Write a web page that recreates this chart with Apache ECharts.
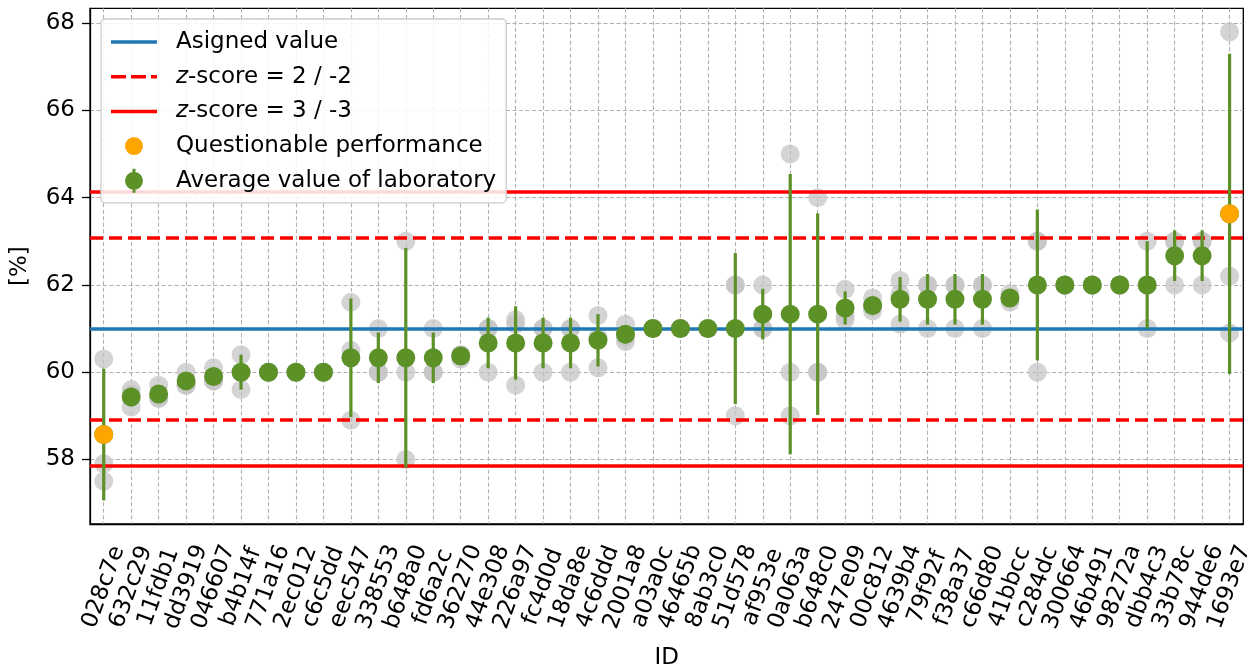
<!DOCTYPE html>
<html><head><meta charset="utf-8">
<script src="https://cdn.jsdelivr.net/npm/echarts@6/dist/echarts.min.js"></script>
<style>html,body{margin:0;padding:0;background:#fff}#c{width:1257px;height:668px}</style>
</head><body><div id="c"></div>
<script>
const ids = ['028c7e','632c29','11fdb1','dd3919','046607','b4b14f','771a16','2ec012','c6c5dd','eec547',
  '338553','b648a0','fd6a2c','362270','44e308','226a97','fc4d0d','18da8e','4c6ddd','2001a8',
  'a03a0c','46465b','8ab3c0','51d578','af953e','0a063a','b648c0','247e09','00c812','4639b4',
  '79f92f','f38a37','c66d80','41bbcc','c284dc','300664','46b491','98272a','dbb4c3','33b78c',
  '944de6','1693e7'];
const rep1 = [60.3,59.6,59.7,60.0,60.1,60.4,60,60,60,61.6, 61,63,61,60.4,61,61.2,61,61,61.3,61.1, 61,61,61,62,62,65,64,61.9,61.7,62.1, 62,62,62,61.8,63,62,62,62,63,63, 63,67.8];
const rep2 = [57.9,59.2,59.4,59.7,59.8,59.6,60,60,60,60.5, 60,60,60,60.3,61,61.1,61,61,60.1,60.7, 61,61,61,62,61,60,60,61.2,61.4,61.1, 62,62,62,61.6,63,62,62,62,62,63, 63,62.2];
const rep3 = [57.5,59.5,59.4,59.7,59.8,60.0,60,60,60,58.9, 60,58,60,60.4,60,59.7,60,60,60.8,60.8, 61,61,61,59,61,59,60,61.3,61.5,61.8, 61,61,61,61.7,60,62,62,62,61,62, 62,60.9];
const means = [58.57,59.43,59.5,59.8,59.9,60.0,60,60,60,60.33, 60.33,60.33,60.33,60.37,60.67,60.67,60.67,60.67,60.73,60.87, 61,61,61,61,61.33,61.33,61.33,61.47,61.53,61.67, 61.67,61.67,61.67,61.7,62,62,62,62,62,62.67, 62.67,63.63];
const errs = [1.51,0.21,0.17,0.17,0.17,0.40,0,0,0,1.36, 0.58,2.52,0.58,0.06,0.58,0.84,0.58,0.58,0.60,0.21, 0,0,0,1.73,0.58,3.21,2.31,0.38,0.15,0.51, 0.58,0.58,0.58,0.10,1.73,0,0,0,1.0,0.58, 0.58,3.67];
const questionable = ['028c7e','1693e7'];
const assignedValue = 61.0;
const z2Lines = [63.09, 58.91];
const z3Lines = [64.14, 57.86];
const yTicks = [58,60,62,64,66,68];
const yMin = 56.52, yMax = 68.34;

const FONT = 'DejaVu Sans';
const FS = 23;
const GREEN = '#5b9127', ORANGE = '#ffa500', BLUE = '#1f77b4', RED = '#ff0000';

const greyData = [];
ids.forEach((id, i) => { [rep1[i], rep2[i], rep3[i]].forEach(v => { if (v != null) greyData.push([id, v]); }); });
const errData = ids.map((id, i) => [i, means[i] - errs[i], means[i] + errs[i]]);
const meanData = ids.map((id, i) => [id, means[i]]);
const qData = ids.map((id, i) => questionable.includes(id) ? [id, means[i]] : [id, null]);

// legend icons (bounding boxes sized so keepAspect gives the wanted look)
const solidIcon = 'path://M0,10.25h46v3.5h-46z M0,0L0.01,0L0,0.01z M0,24L0.01,24L0,24.01z';
const dashIcon = 'path://M0,10.25h15v3.5h-15z M20,10.25h15v3.5h-15z M40,10.25h6v3.5h-6z M0,0L0.01,0L0,0.01z M0,24L0.01,24L0,24.01z';
const avgIcon = 'path://M7.5,0h3v24h-3z M9,3a9,9 0 1,1 -0.001,0z';
const qIcon = 'path://M9,3a9,9 0 1,1 -0.001,0z M9,0L9.01,0L9,0.01z M9,24L9.01,24L9,24.01z';

const chart = echarts.init(document.getElementById('c'), null, {renderer: 'canvas'});
chart.setOption({
  animation: false,
  textStyle: {fontFamily: FONT},
  grid: {left: 90, right: 13.7, top: 8.3, bottom: 144, outerBoundsMode: 'none', containLabel: false,
    show: true, borderColor: '#000', borderWidth: 1.3, backgroundColor: 'transparent'},
  legend: {
    orient: 'vertical', left: 101, top: 19,
    padding: [11, 10, 10, 10],
    itemWidth: 46, itemHeight: 24, itemGap: 10.7,
    backgroundColor: 'rgba(255,255,255,0.85)', borderColor: '#cccccc', borderWidth: 1.3, borderRadius: 4,
    textStyle: {fontFamily: FONT, fontSize: FS, color: '#000', lineHeight: 24, padding: [0, 0, 0, 14],
      rich: {
        i: {fontFamily: FONT, fontSize: FS, fontStyle: 'italic', color: '#000'},
        n: {fontFamily: FONT, fontSize: FS, color: '#000'}
      }},
    formatter: name => name.startsWith('z-') ? '{i|z}{n|' + name.slice(1) + '}' : name,
    selectedMode: false,
    data: [
      {name: 'Asigned value', icon: solidIcon, itemStyle: {color: BLUE, opacity: 1}},
      {name: 'z-score = 2 / -2', icon: dashIcon, itemStyle: {color: RED, opacity: 1}},
      {name: 'z-score = 3 / -3', icon: solidIcon, itemStyle: {color: RED, opacity: 1}},
      {name: 'Questionable performance', icon: qIcon, itemStyle: {color: ORANGE, opacity: 1}},
      {name: 'Average value of laboratory', icon: avgIcon, itemStyle: {color: GREEN, opacity: 1}}
    ]
  },
  xAxis: {
    type: 'category', data: ids, boundaryGap: true,
    name: 'ID', nameLocation: 'middle', nameGap: 122.5,
    nameTextStyle: {fontFamily: FONT, fontSize: FS, color: '#000'},
    axisLine: {lineStyle: {color: '#000', width: 1.3}},
    axisTick: {alignWithLabel: true, interval: 0, length: 8, lineStyle: {color: '#000', width: 1.3}},
    axisLabel: {interval: 0, rotate: 70, align: 'center', verticalAlign: 'middle', margin: 63, hideOverlap: false,
      fontFamily: FONT, fontSize: FS, color: '#000'},
    splitLine: {show: true, interval: 0, alignWithLabel: true, lineStyle: {color: '#b0b0b0', width: 1.1, type: [4, 2.5]}}
  },
  yAxis: {
    type: 'value', min: yMin, max: yMax,
    name: '[%]', nameLocation: 'middle', nameGap: 58, nameRotate: 90,
    nameTextStyle: {fontFamily: FONT, fontSize: FS, color: '#000'},
    axisLine: {show: true, lineStyle: {color: '#000', width: 1.3}},
    axisTick: {show: true, length: 8, customValues: yTicks, lineStyle: {color: '#000', width: 1.3}},
    axisLabel: {customValues: yTicks, margin: 15, fontFamily: FONT, fontSize: FS, color: '#000'},
    splitLine: {show: true, lineStyle: {color: '#b0b0b0', width: 1.1, type: [4, 2.5]}}
  },
  series: [
    {
      name: 'Replicates', type: 'scatter', z: 1, data: greyData, symbolSize: 19,
      itemStyle: {color: 'rgba(195,195,195,0.72)', opacity: 1}, silent: true
    },
    {
      name: 'Asigned value', type: 'line', z: 2, data: [], symbol: 'none',
      itemStyle: {color: BLUE}, lineStyle: {color: BLUE, width: 3.5},
      markLine: {z: 2, silent: true, symbol: 'none', label: {show: false},
        lineStyle: {color: BLUE, width: 3.5, type: 'solid'},
        data: [{yAxis: assignedValue}]}
    },
    {
      name: 'z-score = 2 / -2', type: 'line', z: 2, data: [], symbol: 'none',
      itemStyle: {color: RED}, lineStyle: {color: RED, width: 3.5, type: [13, 6]},
      markLine: {z: 2, silent: true, symbol: 'none', label: {show: false},
        lineStyle: {color: RED, width: 3.5, type: [13, 6]},
        data: z2Lines.map(v => ({yAxis: v}))}
    },
    {
      name: 'z-score = 3 / -3', type: 'line', z: 2, data: [], symbol: 'none',
      itemStyle: {color: RED}, lineStyle: {color: RED, width: 3.5, type: 'solid'},
      markLine: {z: 2, silent: true, symbol: 'none', label: {show: false},
        lineStyle: {color: RED, width: 3.5, type: 'solid'},
        data: z3Lines.map(v => ({yAxis: v}))}
    },
    {
      name: 'Average value of laboratory', type: 'custom', z: 3, data: errData,
      renderItem: (params, api) => {
        const p1 = api.coord([api.value(0), api.value(1)]);
        const p2 = api.coord([api.value(0), api.value(2)]);
        return {type: 'line', shape: {x1: p1[0], y1: p1[1], x2: p2[0], y2: p2[1]},
          style: {stroke: GREEN, lineWidth: 3.2}};
      },
      encode: {x: 0, y: [1, 2]}, silent: true
    },
    {
      name: 'Average value of laboratory', type: 'scatter', z: 4, data: meanData, symbolSize: 19,
      itemStyle: {color: GREEN, opacity: 1}, silent: true
    },
    {
      name: 'Questionable performance', type: 'scatter', z: 5, data: qData, symbolSize: 19,
      itemStyle: {color: ORANGE, opacity: 1}, silent: true
    }
  ]
});
</script></body></html>
